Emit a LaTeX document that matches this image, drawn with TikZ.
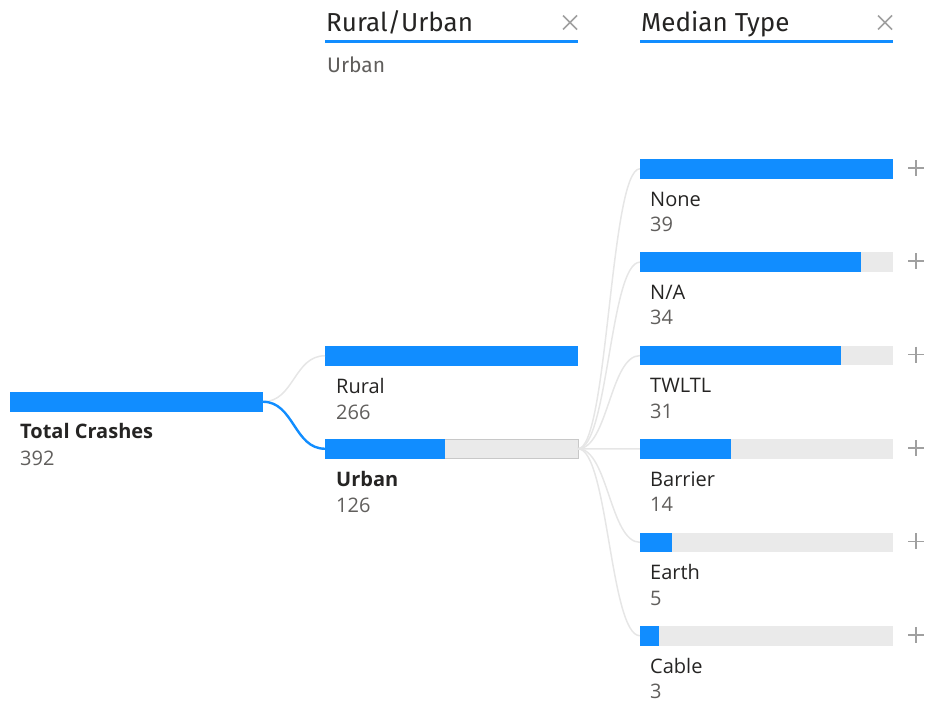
\documentclass[tikz,border=0pt]{standalone}
\usepackage{fontspec}
\setmainfont{Open Sans}
\newfontfamily\headfont{Fira Sans}
\usetikzlibrary{positioning,calc}
\definecolor{pbiblue}{RGB}{17,141,255}
\definecolor{railgray}{RGB}{234,234,234}
\definecolor{railedge}{RGB}{200,200,200}
\definecolor{wiregray}{RGB}{230,230,230}
\definecolor{ink}{RGB}{37,36,35}
\definecolor{dim}{RGB}{96,94,92}
\definecolor{icon}{RGB}{160,160,160}
\tikzset{
  bar/.style={fill=pbiblue,inner sep=0pt,outer sep=0pt,anchor=north west,
    minimum height=19.5pt,minimum width=#1},
  bar/.default=253pt,
  railbar/.style={bar,fill=railgray},
  rule/.style={bar,minimum height=3pt},
  lbl/.style={anchor=base west,inner sep=0pt,text=ink,
    font=\fontsize{20}{24}\selectfont},
  bold lbl/.style={lbl,font=\fontsize{20}{24}\selectfont\bfseries},
  num/.style={lbl,text=dim},
  head/.style={anchor=base west,inner sep=0pt,text=ink,
    font=\headfont\fontsize{26}{30}\selectfont},
  filt/.style={head,text=dim,font=\headfont\fontsize{21}{24}\selectfont},
  wire/.style={draw=wiregray,line width=1.5pt},
  hot wire/.style={draw=pbiblue,line width=2.4pt},
  % icons
  pics/plus/.style={code={
    \draw[icon,line width=1.6pt] (-8,0) -- (8,0) (0,-8) -- (0,8);
  }},
  pics/cross/.style={code={
    \draw[icon,line width=1.6pt] (-7,-7) -- (7,7) (-7,7) -- (7,-7);
  }},
}
\begin{document}
\begin{tikzpicture}[x=1pt,y=-1pt]
  \useasboundingbox (0,0) rectangle (929,702);
  % column headers
  \node[head] (colA) at (326,31) {Rural/Urban};
  \node[rule] (colA rule) at (325,40) {}; \pic at (570,22.5) {cross};
  \node[filt] (colA filter) at (327,72) {Urban};
  \node[head] (colB) at (641,31) {Median Type};
  \node[rule] (colB rule) at (640,40) {}; \pic at (885,22.5) {cross};
  % root and first level
  \node[bar] (root) at (10,392) {};
  \node[bold lbl] (root name) at (20,438) {Total Crashes};
  \node[num] (root count) at (20,465) {392};
  \node[bar] (rural) at (325,346) {};
  \node[lbl] (rural name) at (336,393) {Rural};
  \node[num] (rural count) at (336,419) {266};
  \node[railbar,draw=railedge,line width=1pt] (urban) at (325,439) {};
  \node[bar=120pt] (urban fill) at (325,439) {};
  \node[bold lbl] (urban name) at (336,486) {Urban};
  \node[num] (urban count) at (336,512) {126};
  \draw[wire] (root.east) .. controls +(31,0) and +(-31,0) .. (rural.west);
  \draw[hot wire] (root.east) .. controls +(31,0) and +(-31,0) .. (urban.west);
  % second level
  \foreach \txt/\val [count=\i from 0] in {None/39,{N/A}/34,TWLTL/31,Barrier/14,Earth/5,Cable/3}{
    \pgfmathsetmacro\ytop{159+93.4*\i}
    \pgfmathsetmacro\w{253*\val/39}
    \draw[wire] (urban.east) .. controls +(30,0) and +(-30,0) .. (640,\ytop+9.75);
    \node[railbar] (m\i) at (640,\ytop) {};
    \node[bar=\w pt] (m\i fill) at (640,\ytop) {};
    \node[lbl] (m\i name) at (650,\ytop+47) {\txt};
    \node[num] (m\i count) at (650,\ytop+72.5) {\val};
    \pic at ($(m\i.east)+(23,-1)$) {plus};
  }
\end{tikzpicture}
\end{document}
